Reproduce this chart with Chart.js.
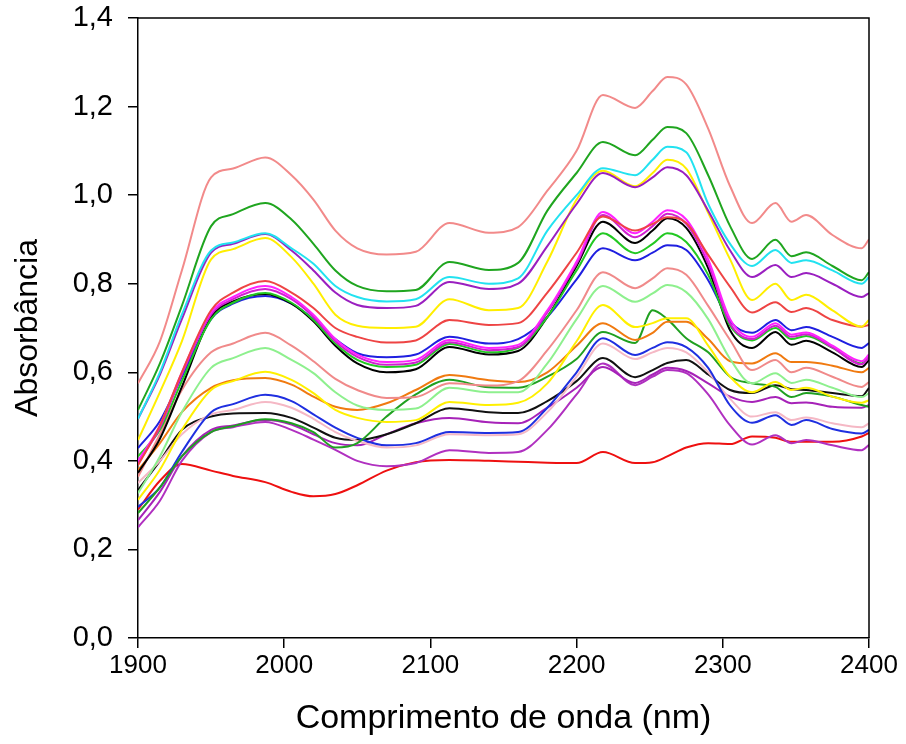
<!DOCTYPE html>
<html><head><meta charset="utf-8">
<script src="https://cdn.jsdelivr.net/npm/chart.js@4/dist/chart.umd.min.js"></script>
<style>html,body{margin:0;padding:0;background:#fff}#wrap{width:906px;height:744px}</style>
</head><body><div id="wrap"><canvas id="c" width="906" height="744"></canvas></div>
<script>
const wavelengths=[1900,1915,1930,1950,1965,1987,2005,2020,2035,2050,2070,2090,2113,2140,2160,2180,2200,2218,2240,2252,2262,2275,2290,2305,2320,2336,2347,2357,2375,2395,2400];
const xTickValues=[1900,2000,2100,2200,2300,2400];
const yTickValues=[0,0.2,0.4,0.6,0.8,1.0,1.2,1.4];
const xTitle='Comprimento de onda (nm)';
const yTitle='Absorbância';

const salmonTop=[0.575,0.67,0.83,1.04,1.06,1.085,1.045,0.99,0.92,0.88,0.866,0.872,0.937,0.915,0.928,1.01,1.10,1.226,1.197,1.235,1.267,1.25,1.15,1.02,0.937,0.982,0.94,0.955,0.91,0.88,0.9];
const greenTop=[0.515,0.62,0.75,0.93,0.957,0.982,0.945,0.89,0.83,0.795,0.783,0.786,0.849,0.831,0.847,0.965,1.05,1.12,1.09,1.125,1.154,1.14,1.045,0.93,0.856,0.899,0.862,0.871,0.84,0.808,0.826];
const cyanTop=[0.495,0.60,0.73,0.875,0.893,0.914,0.88,0.845,0.795,0.77,0.76,0.765,0.815,0.80,0.812,0.92,1.0,1.061,1.045,1.08,1.109,1.097,0.98,0.89,0.84,0.876,0.847,0.853,0.83,0.80,0.815];
const purpleTop=[0.495,0.595,0.72,0.87,0.89,0.912,0.875,0.83,0.78,0.752,0.745,0.75,0.804,0.788,0.80,0.885,0.98,1.05,1.018,1.04,1.063,1.045,0.965,0.875,0.815,0.842,0.815,0.824,0.80,0.77,0.779];
const yellowTop=[0.447,0.555,0.67,0.855,0.878,0.903,0.86,0.80,0.73,0.705,0.70,0.703,0.765,0.74,0.745,0.85,0.99,1.055,1.02,1.05,1.08,1.06,0.96,0.855,0.763,0.80,0.763,0.775,0.74,0.703,0.718];
const redUpper=[0.39,0.48,0.60,0.74,0.78,0.806,0.78,0.745,0.70,0.68,0.667,0.672,0.718,0.707,0.711,0.78,0.87,0.952,0.92,0.935,0.95,0.937,0.865,0.793,0.735,0.758,0.736,0.745,0.718,0.703,0.707];
const magentaA=[0.40,0.48,0.60,0.735,0.77,0.795,0.77,0.73,0.675,0.64,0.623,0.628,0.673,0.655,0.662,0.74,0.85,0.962,0.914,0.94,0.966,0.945,0.855,0.72,0.68,0.711,0.685,0.69,0.66,0.625,0.64];
const magentaB=[0.395,0.475,0.595,0.73,0.765,0.788,0.765,0.725,0.67,0.635,0.617,0.622,0.668,0.65,0.657,0.735,0.845,0.955,0.905,0.93,0.958,0.935,0.845,0.71,0.675,0.705,0.68,0.686,0.656,0.618,0.634];
const greenMid=[0.41,0.47,0.58,0.72,0.757,0.779,0.757,0.718,0.665,0.628,0.612,0.617,0.664,0.645,0.655,0.725,0.83,0.914,0.869,0.89,0.914,0.894,0.82,0.705,0.672,0.70,0.675,0.682,0.655,0.62,0.635];
const blackMid=[0.373,0.45,0.567,0.725,0.76,0.777,0.755,0.715,0.66,0.62,0.60,0.607,0.657,0.64,0.648,0.725,0.84,0.94,0.892,0.92,0.948,0.926,0.835,0.695,0.655,0.691,0.662,0.671,0.645,0.612,0.628];
const blueMid=[0.429,0.49,0.59,0.72,0.755,0.772,0.755,0.72,0.675,0.643,0.634,0.64,0.68,0.665,0.675,0.725,0.81,0.88,0.853,0.87,0.887,0.876,0.808,0.715,0.689,0.718,0.695,0.702,0.68,0.655,0.666];
const salmonLow=[0.364,0.46,0.56,0.645,0.665,0.689,0.66,0.625,0.585,0.56,0.542,0.544,0.575,0.57,0.58,0.65,0.74,0.826,0.79,0.812,0.835,0.82,0.75,0.673,0.605,0.628,0.60,0.61,0.59,0.567,0.578];
const lightGreen=[0.327,0.41,0.51,0.61,0.632,0.655,0.628,0.598,0.555,0.525,0.515,0.518,0.565,0.555,0.555,0.62,0.72,0.795,0.759,0.778,0.797,0.781,0.72,0.63,0.575,0.598,0.576,0.583,0.565,0.544,0.553];
const yellowLow=[0.312,0.38,0.47,0.56,0.58,0.601,0.583,0.553,0.515,0.497,0.488,0.492,0.533,0.526,0.531,0.575,0.67,0.752,0.702,0.711,0.722,0.722,0.66,0.59,0.555,0.578,0.56,0.565,0.545,0.531,0.537];
const orangeLine=[0.379,0.44,0.51,0.565,0.582,0.587,0.572,0.545,0.522,0.515,0.53,0.56,0.594,0.582,0.578,0.60,0.66,0.711,0.673,0.689,0.714,0.714,0.675,0.625,0.62,0.643,0.623,0.623,0.615,0.60,0.61];
const greenLow=[0.282,0.34,0.41,0.465,0.478,0.494,0.485,0.465,0.43,0.44,0.50,0.55,0.583,0.566,0.565,0.59,0.63,0.691,0.666,0.74,0.72,0.677,0.645,0.59,0.575,0.567,0.544,0.553,0.545,0.526,0.522];
const blueLow=[0.296,0.34,0.42,0.51,0.528,0.549,0.535,0.505,0.475,0.452,0.435,0.44,0.465,0.463,0.465,0.52,0.6,0.677,0.639,0.655,0.668,0.657,0.61,0.525,0.486,0.503,0.481,0.492,0.472,0.462,0.47];
const pinkLow=[0.35,0.40,0.46,0.505,0.515,0.533,0.52,0.495,0.465,0.445,0.43,0.435,0.46,0.458,0.46,0.51,0.59,0.665,0.63,0.645,0.655,0.645,0.6,0.54,0.50,0.51,0.492,0.498,0.485,0.476,0.485];
const blackLow=[0.334,0.40,0.47,0.50,0.507,0.508,0.497,0.475,0.452,0.447,0.46,0.485,0.519,0.51,0.508,0.535,0.58,0.632,0.589,0.605,0.621,0.628,0.595,0.56,0.553,0.571,0.562,0.56,0.553,0.546,0.565];
const purpleLowA=[0.266,0.33,0.41,0.47,0.48,0.492,0.482,0.46,0.44,0.435,0.46,0.485,0.497,0.487,0.485,0.52,0.565,0.612,0.576,0.595,0.61,0.603,0.575,0.545,0.533,0.544,0.53,0.532,0.522,0.52,0.526];
const purpleLowB=[0.25,0.31,0.40,0.465,0.476,0.488,0.47,0.448,0.425,0.40,0.388,0.395,0.424,0.418,0.42,0.47,0.55,0.62,0.571,0.59,0.605,0.598,0.55,0.48,0.437,0.458,0.44,0.447,0.435,0.424,0.436];
const redBottom=[0.29,0.355,0.393,0.378,0.366,0.352,0.33,0.32,0.325,0.345,0.378,0.397,0.402,0.40,0.398,0.396,0.395,0.42,0.395,0.397,0.41,0.43,0.44,0.438,0.455,0.452,0.443,0.443,0.443,0.455,0.463];

const seriesList=[
 [salmonTop,'#f28a8a'],[greenTop,'#1fa51f'],[cyanTop,'#22e2f0'],[purpleTop,'#9a1fc0'],[yellowTop,'#ffee00'],
 [redUpper,'#ee4444'],[magentaA,'#ff22ff'],[magentaB,'#d020d0'],[greenMid,'#22c822'],[blackMid,'#000000'],[blueMid,'#1f1fe0'],
 [salmonLow,'#f08a8a'],[lightGreen,'#8ef08e'],[yellowLow,'#fff000'],[orangeLine,'#f07a10'],[greenLow,'#20a020'],
 [blueLow,'#1f2fe0'],[pinkLow,'#f5b8c5'],[blackLow,'#111111'],[purpleLowA,'#a622b8'],[purpleLowB,'#b030c0'],[redBottom,'#ee1010']
];

const datasets=seriesList.map(([vals,col])=>({
  data: vals.map((v,j)=>({x:wavelengths[j],y:v})),
  borderColor:col, borderWidth:2, pointRadius:0, fill:false,
  cubicInterpolationMode:'monotone'
}));

const boxPlugin={id:'box',afterDraw(chart){
  const a=chart.chartArea, c=chart.ctx;
  c.save(); c.strokeStyle='#000'; c.lineWidth=1.5;
  c.beginPath(); c.moveTo(a.left,a.top); c.lineTo(a.right,a.top); c.lineTo(a.right,a.bottom); c.stroke();
  c.restore();
}};

const sans="'Liberation Sans',Arial,sans-serif";

new Chart(document.getElementById('c'),{
  type:'line',
  data:{datasets},
  plugins:[boxPlugin],
  options:{
    responsive:false, animation:false,
    layout:{padding:{top:18,right:37,left:0,bottom:0}},
    plugins:{legend:{display:false},tooltip:{enabled:false}},
    scales:{
      x:{type:'linear',min:1900,max:2400,
        afterBuildTicks(s){s.ticks=xTickValues.map(v=>({value:v}));},
        afterFit(s){s.height=106;s.paddingLeft=0;s.paddingRight=0;},
        grid:{drawOnChartArea:false,drawTicks:true,tickLength:10,color:'#000',lineWidth:1.5},
        border:{color:'#000',width:1.5},
        ticks:{color:'#000',font:{family:sans,size:26},padding:2,maxRotation:0,autoSkip:false,
          callback:v=>String(v)},
        title:{display:true,text:xTitle,color:'#000',font:{family:sans,size:34},padding:{top:0,bottom:5}}
      },
      y:{type:'linear',min:0,max:1.4,
        afterBuildTicks(s){s.ticks=yTickValues.map(v=>({value:v}));},
        afterFit(s){s.width=138;s.paddingTop=0;s.paddingBottom=0;},
        grid:{drawOnChartArea:false,drawTicks:true,tickLength:10,color:'#000',lineWidth:1.5},
        border:{color:'#000',width:1.5},
        ticks:{color:'#000',font:{family:sans,size:29},padding:15,autoSkip:false,
          callback:v=>v.toFixed(1).replace('.',',')},
        title:{display:true,text:yTitle,color:'#000',font:{family:sans,size:32},padding:{top:9,bottom:0}}
      }
    }
  }
});
</script>
</body></html>
